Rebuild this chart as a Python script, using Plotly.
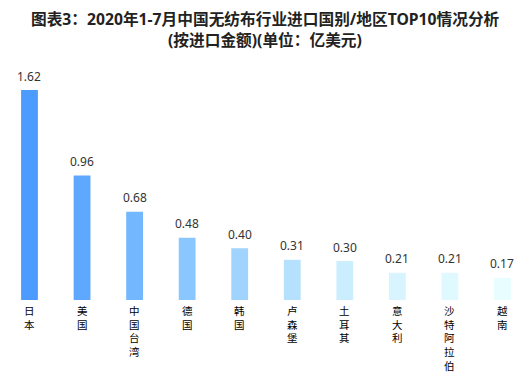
import plotly.graph_objects as go

categories = ["日本", "美国", "中国台湾", "德国", "韩国", "卢森堡", "土耳其", "意大利", "沙特阿拉伯", "越南"]
values = [1.62, 0.96, 0.68, 0.48, 0.40, 0.31, 0.30, 0.21, 0.21, 0.17]
value_labels = ["1.62", "0.96", "0.68", "0.48", "0.40", "0.31", "0.30", "0.21", "0.21", "0.17"]
bar_colors = ["#4C9CFF", "#5EA9FF", "#73B8FF", "#8AC6FF", "#A1D3FF",
              "#B6E1FE", "#CAEEFE", "#D8F5FF", "#E0F9FF", "#E8FDFF"]
title_lines = ["图表3：2020年1-7月中国无纺布行业进口国别/地区TOP10情况分析",
               "(按进口金额)(单位：亿美元)"]

fig = go.Figure()
fig.add_trace(go.Bar(
    x=categories, y=values, marker_color=bar_colors, marker_line_width=0,
    width=0.32, cliponaxis=False,
))

annotations = []
for cat, val, lab in zip(categories, values, value_labels):
    annotations.append(dict(
        x=cat, y=val, xref="x", yref="y", text=lab, showarrow=False,
        yshift=14, yanchor="middle", xanchor="center",
        font=dict(size=12, color="#333333", family="Noto Sans, DejaVu Sans"),
    ))
    annotations.append(dict(
        x=cat, y=0, xref="x", yref="y", text="<br>".join(list(cat)), showarrow=False,
        yshift=-1, yanchor="top", xanchor="center", align="center",
        font=dict(size=10.5, color="#000000", family="Noto Sans CJK SC"),
    ))

# title lines (plot area spans figure y 82..292, height 210)
for line, fig_y in zip(title_lines, [11, 32.5]):
    annotations.append(dict(
        text="<b>" + line + "</b>", xref="paper", yref="paper",
        x=0.484, y=(292 - fig_y) / 210, xanchor="center", yanchor="middle", showarrow=False,
        font=dict(size=15.7, color="#222222", family="Noto Sans, Noto Sans CJK SC"),
    ))

fig.update_layout(
    width=531, height=387,
    margin=dict(l=0, r=0, t=82, b=95),
    paper_bgcolor="white", plot_bgcolor="white",
    xaxis=dict(showticklabels=False, showgrid=False, zeroline=False, showline=False,
               range=[-0.409, 9.695]),
    yaxis=dict(visible=False, range=[0, 1.62], showgrid=False),
    annotations=annotations,
    showlegend=False,
)

fig.write_html("out.html")
